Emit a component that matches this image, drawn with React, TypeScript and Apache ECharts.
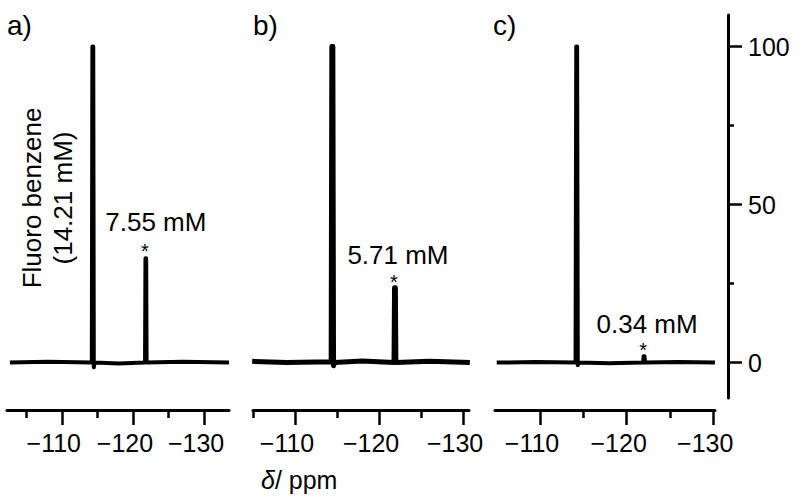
import React, { useEffect, useRef } from "react";
import * as echarts from "echarts";

const FONT = "'Liberation Sans', Arial, sans-serif";

// Panel labels and annotations
const panelLabels = ["a)", "b)", "c)"];
const concLabels = ["7.55 mM", "5.71 mM", "0.34 mM"];
const refLabel = "Fluoro benzene\n(14.21 mM)";

// x axis ranges (ppm, reversed) per panel
const xMinPpm = [-133.5, -130.7, -130.2];
const xMaxPpm = [-102.3, -105.0, -104.8];
const majorTicks = [-110, -120, -130];
const minorTicksA = [-105, -115, -125];
const minorTicksB = [-105, -115, -125];
const minorTicksC = [-115, -125];

// y axis
const yMajor = [0, 50, 100];
const yMinor = [25, 75];

// spectrum a
const ppmA = [-102.7, -108.0, -114.22, -114.3, -114.42, -114.5, -114.6, -118.0, -121.7, -121.76, -121.86, -121.92, -127.0, -133.5];
const intA = [0, 0.3, 0, 100, 100, -1.5, 0, -0.3, 0, 33, 33, 0, 0.3, 0];
// spectrum b
const ppmB = [-104.9, -109.0, -114.3, -114.38, -114.5, -114.58, -114.68, -118.0, -121.78, -121.84, -121.94, -122.0, -126.0, -130.8];
const intB = [0.4, 0, 0.3, 100, 100, -1, 0, 0.5, 0, 23.7, 23.7, 0, 0.4, 0];
// spectrum c
const ppmC = [-105.0, -109.5, -114.1, -114.18, -114.28, -114.36, -114.45, -118.0, -121.9, -121.96, -122.06, -122.12, -126.0, -130.2];
const intC = [0, 0.2, 0, 100, 100, -0.8, 0, -0.2, 0, 2, 2, 0, 0.2, 0];

const ppmList = [ppmA, ppmB, ppmC];
const intList = [intA, intB, intC];
const minorList = [minorTicksA, minorTicksB, minorTicksC];
const analytePpm = [-121.81, -121.89, -122.01];
const analyteInt = [33, 23.7, 2];

const grids = [
  { left: 7, width: 222, top: 15, height: 395 },
  { left: 253, width: 216, top: 15, height: 395 },
  { left: 495, width: 220, top: 15, height: 395 },
  { left: 727, width: 1, top: 15, height: 383 },
];
// annotation layout: block offset, star line height, star shift padding
const annotOffsets = [[10, -20], [3, -19], [3, -19]];
const starLineHeights = [32, 28, 26];
const starPadRight = [22, 8, 8];
const lineWidths = [4, 5, 4];

const fmt = (v: number) => String(v).replace("-", "\u2212");

export default function App() {
  const ref = useRef<HTMLDivElement>(null);
  useEffect(() => {
    if (!ref.current) return;
    const chart = echarts.init(ref.current, undefined, { renderer: "svg" });
    const xAxis: any[] = [];
    const yAxis: any[] = [];
    const series: any[] = [];
    for (let i = 0; i < 3; i++) {
      xAxis.push({
        gridIndex: i,
        type: "value",
        min: xMinPpm[i],
        max: xMaxPpm[i],
        inverse: true,
        position: "bottom",
        splitLine: { show: false },
        axisLine: { show: true, onZero: false, lineStyle: { color: "#000", width: 3 } },
        axisTick: { customValues: majorTicks, length: 15, lineStyle: { color: "#000", width: 2.5 } },
        axisLabel: {
          customValues: majorTicks,
          formatter: fmt,
          fontSize: 25,
          fontFamily: FONT,
          color: "#000",
          margin: 20,
          padding: [0, 16, 0, 0],
        },
      });
      xAxis.push({
        gridIndex: i,
        type: "value",
        min: xMinPpm[i],
        max: xMaxPpm[i],
        inverse: true,
        position: "bottom",
        splitLine: { show: false },
        axisLine: { show: false, onZero: false },
        axisTick: { customValues: minorList[i], length: 8, lineStyle: { color: "#000", width: 2.5 } },
        axisLabel: { show: false },
      });
      yAxis.push({ gridIndex: i, type: "value", min: -15, max: 110, show: false });
      series.push({
        type: "line",
        xAxisIndex: 2 * i,
        yAxisIndex: i,
        symbol: "none",
        showSymbol: false,
        silent: true,
        lineStyle: { color: "#000", width: lineWidths[i], join: "round" },
        data: ppmList[i].map((p, k) => [p, intList[i][k]]),
        markPoint: {
          symbol: "circle",
          symbolSize: 1,
          itemStyle: { color: "rgba(0,0,0,0)" },
          silent: true,
          data: [
            {
              coord: [analytePpm[i], analyteInt[i]],
              label: {
                show: true,
                position: "inside",
                align: "center",
                formatter: "{t|" + concLabels[i] + "}\n{s|*}",
                offset: annotOffsets[i],
                fontFamily: FONT,
                color: "#000",
                rich: {
                  t: { fontSize: 26, lineHeight: 26, fontFamily: FONT, color: "#000" },
                  s: {
                    fontSize: 20,
                    lineHeight: starLineHeights[i],
                    fontFamily: FONT,
                    color: "#000",
                    padding: [0, starPadRight[i], 0, 0],
                  },
                },
              },
            },
          ],
        },
      });
    }
    xAxis.push({ gridIndex: 3, type: "value", min: 0, max: 1, show: false });
    yAxis.push({
      gridIndex: 3,
      type: "value",
      min: -11.2,
      max: 110,
      position: "right",
      splitLine: { show: false },
      axisLine: { show: true, onZero: false, lineStyle: { color: "#000", width: 3 } },
      axisTick: { customValues: yMajor, length: 14, lineStyle: { color: "#000", width: 2.5 } },
      axisLabel: { customValues: yMajor, fontSize: 25, fontFamily: FONT, color: "#000", margin: 20 },
    });
    yAxis.push({
      gridIndex: 3,
      type: "value",
      min: -11.2,
      max: 110,
      position: "right",
      splitLine: { show: false },
      axisLine: { show: false, onZero: false },
      axisTick: { customValues: yMinor, length: 6, lineStyle: { color: "#000", width: 2.5 } },
      axisLabel: { show: false },
    });

    const panelX = [7, 253, 493];
    const graphic: any[] = panelLabels.map((t, i) => ({
      type: "text",
      left: panelX[i],
      top: 11,
      style: { text: t, fontSize: 28, fontFamily: FONT, fill: "#000" },
    }));
    graphic.push({
      type: "text",
      x: 47,
      y: 198,
      rotation: Math.PI / 2,
      style: {
        text: refLabel,
        fontSize: 26,
        fontFamily: FONT,
        fill: "#000",
        align: "center",
        verticalAlign: "middle",
        lineHeight: 31,
      },
    });
    graphic.push({
      type: "text",
      x: 261,
      y: 480,
      style: {
        text: "{i|\u03B4}{n|/ ppm}",
        fontSize: 25,
        fontFamily: FONT,
        fill: "#000",
        verticalAlign: "middle",
        rich: {
          i: { fontStyle: "italic", fontSize: 25, fontFamily: FONT, fill: "#000" },
          n: { fontSize: 25, fontFamily: FONT, fill: "#000" },
        },
      },
    });

    chart.setOption({
      animation: false,
      backgroundColor: "#fff",
      grid: grids,
      xAxis,
      yAxis,
      series,
      graphic,
    });
    return () => chart.dispose();
  }, []);
  return (
    <div
      ref={ref}
      style={{ position: "fixed", left: 0, top: 0, width: 800, height: 500 }}
    />
  );
}
